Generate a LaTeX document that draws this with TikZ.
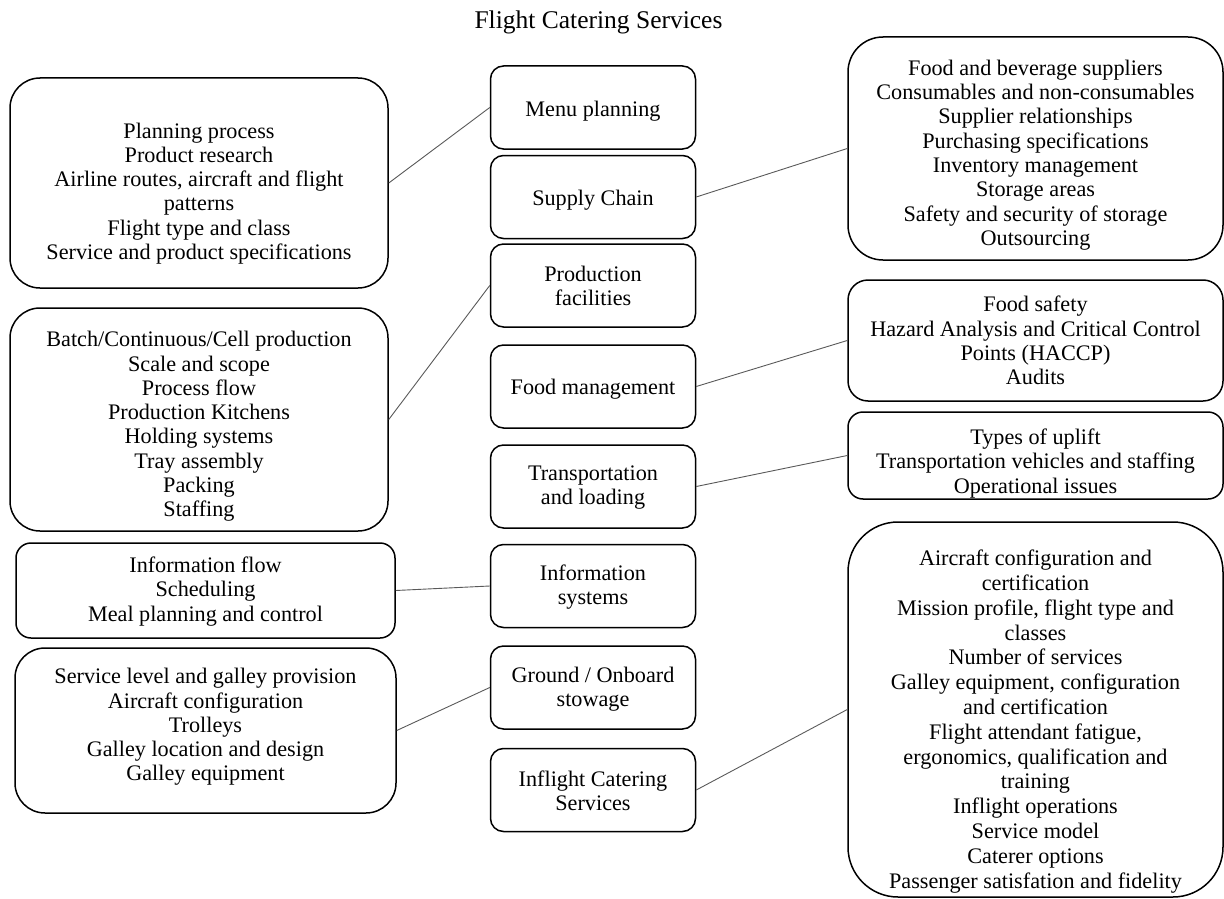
\documentclass[tikz,border=0pt]{standalone}
\usepackage{fontspec}
\setmainfont{Liberation Serif}
\tikzset{
  x=1pt, y=-1pt,
  every node/.style={inner sep=0pt},
  txt/.style={font=\fontsize{22.2}{24.3}\selectfont, align=center},
  topicbox/.style={draw, line width=1.5pt, minimum width=#1},
  midbox/.style={topicbox=205pt, rounded corners=13pt, minimum height=83pt},
  link/.style={draw=black!65, line width=0.9pt},
}
\begin{document}
\begin{tikzpicture}
\useasboundingbox (0,0) rectangle (1224,899);

% title
\node[font=\fontsize{25.5}{30}\selectfont] (title) at (598.5,22) {Flight Catering Services};

% central topics
\node[midbox] (menu)     at (593,107.5) {};
\node[midbox] (supply)   at (593,197)   {};
\node[midbox] (prod)     at (593,285.5) {};
\node[midbox] (food)     at (593,386.5) {};
\node[midbox] (trans)    at (593,486.5) {};
\node[midbox] (info)     at (593,586)   {};
\node[midbox] (ground)   at (593,687.5) {};
\node[midbox] (inflight) at (593,790)   {};

\node[txt] (menuT)     at ([yshift=-4pt]menu.center)     {Menu planning};
\node[txt] (supplyT)   at ([yshift=-3pt]supply.center)   {Supply Chain};
\node[txt] (prodT)     at ([yshift=-0.5pt]prod.center)   {Production\\facilities};
\node[txt] (foodT)     at ([yshift=-3pt]food.center)     {Food management};
\node[txt] (transT)    at ([yshift=-1pt]trans.center)    {Transportation\\and loading};
\node[txt] (infoT)     at ([yshift=-1pt]info.center)     {Information\\systems};
\node[txt] (groundT)   at ([yshift=-2pt]ground.center)   {Ground / Onboard\\stowage};
\node[txt] (inflightT) at ([yshift=-1pt]inflight.center) {Inflight Catering\\Services};

% left detail boxes
\node[topicbox=378pt, minimum height=210pt, rounded corners=30pt] (menuD)   at (199,183)     {};
\node[topicbox=378pt, minimum height=223pt, rounded corners=30pt] (prodD)   at (199,419.5)   {};
\node[topicbox=379pt, minimum height=95pt,  rounded corners=15pt] (infoD)   at (205.5,590.5) {};
\node[topicbox=381pt, minimum height=165pt, rounded corners=30pt] (groundD) at (205.5,730.5) {};

\node[txt] (menuDT) at ([yshift=-10.5pt]menuD.center)
  {Planning process\\Product research\\Airline routes, aircraft and flight\\patterns\\Flight type and class\\Service and product specifications};
\node[txt] (prodDT) at ([yshift=-7pt]prodD.center)
  {Batch/Continuous/Cell production\\Scale and scope\\Process flow\\Production Kitchens\\Holding systems\\Tray assembly\\Packing\\Staffing};
\node[txt] (infoDT) at ([yshift=-1pt]infoD.center)
  {Information flow\\Scheduling\\Meal planning and control};
\node[txt] (groundDT) at ([yshift=3.5pt]groundD.center)
  {Service level and galley provision\\Aircraft configuration\\Trolleys\\Galley location and design\\Galley equipment};

% right detail boxes
\node[topicbox=375pt, minimum height=223pt, rounded corners=35pt] (supplyD)   at (1035.5,148.5) {};
\node[topicbox=375pt, minimum height=121pt, rounded corners=20pt] (foodD)     at (1035.5,340.5) {};
\node[topicbox=375pt, minimum height=87pt,  rounded corners=15pt] (transD)    at (1035.5,455.5) {};
\node[topicbox=375pt, minimum height=375pt, rounded corners=50pt] (inflightD) at (1035.5,709.5) {};

\node[txt] (supplyDT) at ([yshift=-6.5pt]supplyD.center)
  {Food and beverage suppliers\\Consumables and non-consumables\\Supplier relationships\\Purchasing specifications\\Inventory management\\Storage areas\\Safety and security of storage\\Outsourcing};
\node[txt] (foodDT) at ([yshift=0pt]foodD.center)
  {Food safety\\Hazard Analysis and Critical Control\\Points (HACCP)\\Audits};
\node[txt] (transDT) at ([yshift=-8pt]transD.center)
  {Types of uplift\\Transportation vehicles and staffing\\Operational issues};
\node[txt, font=\fontsize{22.2}{24.8}\selectfont] (inflightDT) at ([yshift=-12pt]inflightD.center)
  {Aircraft configuration and\\certification\\Mission profile, flight type and\\classes\\Number of services\\Galley equipment, configuration\\and certification\\Flight attendant fatigue,\\ergonomics, qualification and\\training\\Inflight operations\\Service model\\Caterer options\\Passenger satisfation and fidelity};

% connectors
\draw[link] (menuD.east) -- (menu.west);
\draw[link] (prodD.east) -- (prod.west);
\draw[link] (infoD.east) -- (info.west);
\draw[link] (groundD.east) -- (ground.west);
\draw[link] (supply.east) -- (supplyD.west);
\draw[link] (food.east) -- (foodD.west);
\draw[link] (trans.east) -- (transD.west);
\draw[link] (inflight.east) -- (inflightD.west);
\end{tikzpicture}
\end{document}
